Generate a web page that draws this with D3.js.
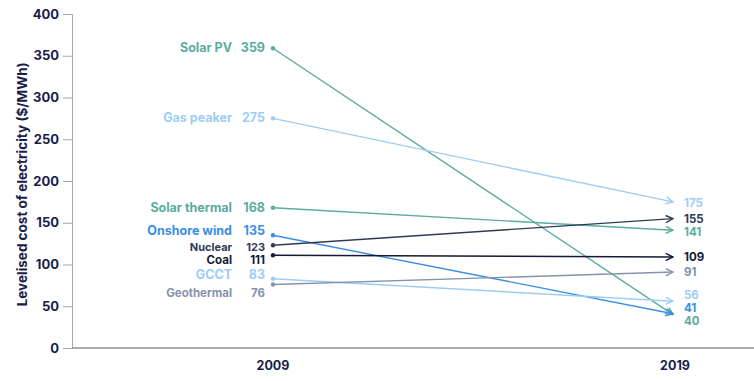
<!DOCTYPE html>
<html lang="en">
  <head>
    <meta charset="utf-8" />
    <title>Levelised cost of electricity</title>
    <script src="https://cdn.jsdelivr.net/npm/d3@7"></script>
    <style>
      body { margin: 0; background: #fff; }
      text { font-family: Inter, "Open Sans", sans-serif; font-weight: 700; }
    </style>
  </head>
  <body>
    <div id="root"></div>
    <script type="text/javascript">
      // data
      const techs = ["Solar PV", "Gas peaker", "Solar thermal", "Onshore wind", "Nuclear", "Coal", "GCCT", "Geothermal"];
      const cost2009 = [359, 275, 168, 135, 123, 111, 83, 76];
      const cost2019 = [40, 175, 141, 41, 155, 109, 56, 91];
      const years = ["2009", "2019"];
      const yTicks = [0, 50, 100, 150, 200, 250, 300, 350, 400];

      // styling per series
      const colors = ["#5aab9f", "#9dcdf3", "#5aab9f", "#3a8ee3", "#2f3a55", "#121a35", "#9dcdf3", "#8592ab"];
      const fontSizes = [12.5, 12.5, 12.5, 12.5, 11, 11.5, 12.5, 11.5];
      // small label nudges (px) to avoid overlap
      const leftNudge = [0, 0, 0, -4, 2, 5, -4, 8];
      const rightNudge = [6, 1, 2, -6, 0, 0, -6, 0];

      const width = 754;
      const height = 381;
      const marginLeft = 72;
      const marginTop = 14;
      const axisBottom = 348;

      const y = d3.scaleLinear().domain([0, 400]).range([axisBottom, marginTop]);
      const x = d3.scalePoint().domain(years).range([273, 673]);

      const svg = d3.select("#root").append("svg")
        .attr("width", width)
        .attr("height", height);

      const defs = svg.append("defs");
      colors.forEach((c, i) => {
        defs.append("marker")
          .attr("id", "arr" + i)
          .attr("viewBox", "0 0 10 10")
          .attr("refX", 9)
          .attr("refY", 5)
          .attr("markerWidth", 9)
          .attr("markerHeight", 9)
          .attr("markerUnits", "userSpaceOnUse")
          .attr("orient", "auto")
          .append("path")
          .attr("d", "M1,1 L9,5 L1,9")
          .attr("fill", "none")
          .attr("stroke", c)
          .attr("stroke-width", 1.6);
      });

      // y axis
      const yAxis = svg.append("g")
        .attr("transform", `translate(${marginLeft},0)`)
        .call(d3.axisLeft(y).tickValues(yTicks).tickSize(9).tickPadding(4));
      yAxis.select(".domain").attr("stroke", "#a3a8b5");
      yAxis.selectAll(".tick line").attr("stroke", "#a3a8b5");
      yAxis.selectAll(".tick text")
        .attr("fill", "#161d4a")
        .attr("font-size", 13)
        .attr("font-family", "Inter, sans-serif")
        .attr("font-weight", 700);

      // x axis baseline
      svg.append("line")
        .attr("x1", marginLeft).attr("x2", width)
        .attr("y1", axisBottom).attr("y2", axisBottom)
        .attr("stroke", "#8d92a3")
        .attr("stroke-width", 1.5);

      svg.selectAll(".year")
        .data(years)
        .enter()
        .append("text")
        .attr("x", d => x(d) + (d === "2019" ? 2 : 0))
        .attr("y", 370)
        .attr("text-anchor", "middle")
        .attr("font-size", 12.5)
        .attr("fill", "#161d4a")
        .text(d => d);

      // y title
      svg.append("text")
        .attr("transform", `translate(27,${y(196)}) rotate(-90)`)
        .attr("text-anchor", "middle")
        .attr("font-size", 13.5)
        .attr("fill", "#161d4a")
        .text("Levelised cost of electricity ($/MWh)");

      // lines with arrows
      techs.forEach((t, i) => {
        svg.append("line")
          .attr("x1", x("2009"))
          .attr("y1", y(cost2009[i]))
          .attr("x2", x("2019"))
          .attr("y2", y(cost2019[i]))
          .attr("stroke", colors[i])
          .attr("stroke-width", 1.4)
          .attr("marker-end", `url(#arr${i})`);

        svg.append("circle")
          .attr("cx", x("2009"))
          .attr("cy", y(cost2009[i]))
          .attr("r", 2.2)
          .attr("fill", colors[i]);

        // left labels
        const ly = y(cost2009[i]) + leftNudge[i] + 4;
        svg.append("text")
          .attr("x", 265)
          .attr("y", ly)
          .attr("text-anchor", "end")
          .attr("font-size", fontSizes[i])
          .attr("fill", colors[i])
          .text(cost2009[i]);
        svg.append("text")
          .attr("x", 232)
          .attr("y", ly)
          .attr("text-anchor", "end")
          .attr("font-size", fontSizes[i])
          .attr("fill", colors[i])
          .text(t);

        // right labels
        svg.append("text")
          .attr("x", 684)
          .attr("y", y(cost2019[i]) + rightNudge[i] + 4)
          .attr("font-size", 11.5)
          .attr("fill", colors[i])
          .text(cost2019[i]);
      });
    </script>
  </body>
</html>
